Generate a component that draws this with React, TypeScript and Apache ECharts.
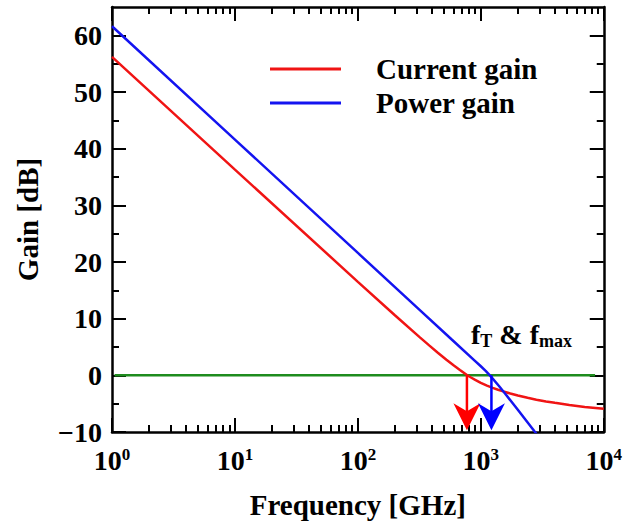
import React, { useEffect, useRef } from 'react';
import * as echarts from 'echarts';

// ---- data ----
const currentFreq = [1, 10, 100, 200, 316, 380, 447, 525, 600, 676, 771, 832, 900, 1000, 1122, 1250, 1380, 1524, 1738, 2000, 2400, 2831, 3390, 4000, 5248, 7000, 10000];
const currentGain = [56.2, 36.3, 16.5, 10.6, 6.78, 5.28, 4.0, 2.75, 1.78, 0.95, 0.05, -0.38, -0.8, -1.32, -1.81, -2.21, -2.54, -2.84, -3.2, -3.55, -3.97, -4.3, -4.6, -4.85, -5.25, -5.57, -5.88];

const powerFreq = [1, 10, 100, 316, 583, 900, 1000, 1100, 1200, 1400, 1585, 2000, 2740, 3000];
const powerGain = [61.6, 41.6, 21.6, 11.6, 6.28, 2.52, 1.6, 0.74, -0.13, -1.84, -3.3, -6.08, -9.92, -11.0];

const unityFreq = [1.05, 8500];
const unityGain = [0, 0];

const arrowFreq = [771, 1220];
const arrowColors = ['#ff0000', '#0000ff'];

const yMajorTicks = [-10, 0, 10, 20, 30, 40, 50, 60];
const yMinorTicks = [-5, 5, 15, 25, 35, 45, 55];
const xDecades = [0, 1, 2, 3];
const xMinorMultipliers = [2, 3, 4, 5, 6, 7, 8, 9];

const FONT = "'Liberation Serif', 'Times New Roman', serif";

export default function App() {
  const ref = useRef<HTMLDivElement>(null);

  useEffect(() => {
    if (!ref.current) return;
    document.body.style.margin = '0';
    const chart = echarts.init(ref.current, null, { renderer: 'svg' });

    const xMinorLog: number[] = [];
    xDecades.forEach((d) => xMinorMultipliers.forEach((k) => xMinorLog.push(Math.log10(k * Math.pow(10, d)))));

    const line = { show: true, onZero: false, lineStyle: { color: '#000', width: 2.5 } };
    const noLine = { show: false, onZero: false };
    const majorTick = { show: true, inside: true, length: 14, lineStyle: { color: '#000', width: 2 } };
    const minorTickStyle = { show: true, inside: true, length: 7, lineStyle: { color: '#000', width: 2 } };

    const option: any = {
      animation: false,
      backgroundColor: '#fff',
      grid: { left: 112, right: 17, top: 7, bottom: 92, containLabel: false },
      legend: {
        data: [
          { name: 'Current gain', icon: 'rect' },
          { name: 'Power gain', icon: 'rect' },
        ],
        orient: 'vertical',
        left: 265,
        top: 49,
        itemWidth: 71,
        itemHeight: 3,
        itemGap: 4,
        textStyle: {
          fontFamily: FONT,
          fontWeight: 'bold',
          fontSize: 29,
          color: '#000',
          lineHeight: 30,
          padding: [0, 0, 0, 30],
        },
      },
      xAxis: [
        {
          type: 'log',
          logBase: 10,
          min: 1,
          max: 10000,
          position: 'bottom',
          axisLine: line,
          axisTick: majorTick,
          splitLine: { show: false },
          name: 'Frequency [GHz]',
          nameLocation: 'middle',
          nameGap: 58,
          nameTextStyle: { fontFamily: FONT, fontWeight: 'bold', fontSize: 29, color: '#000' },
          axisLabel: {
            margin: 14,
            formatter: (v: number) => '{b|10}{s|' + Math.round(Math.log10(v)) + '}',
            rich: {
              b: { fontFamily: FONT, fontWeight: 'bold', fontSize: 28, color: '#000' },
              s: { fontFamily: FONT, fontWeight: 'bold', fontSize: 17, color: '#000', verticalAlign: 'top' },
            },
          },
        },
        {
          type: 'value',
          min: 0,
          max: 4,
          position: 'bottom',
          axisLine: noLine,
          axisLabel: { show: false },
          splitLine: { show: false },
          axisTick: { ...minorTickStyle, customValues: xMinorLog },
        },
        {
          type: 'log',
          logBase: 10,
          min: 1,
          max: 10000,
          position: 'top',
          axisLine: line,
          axisTick: majorTick,
          axisLabel: { show: false },
          splitLine: { show: false },
        },
        {
          type: 'value',
          min: 0,
          max: 4,
          position: 'top',
          axisLine: noLine,
          axisLabel: { show: false },
          splitLine: { show: false },
          axisTick: { ...minorTickStyle, customValues: xMinorLog },
        },
      ],
      yAxis: [
        {
          type: 'value',
          min: -10,
          max: 65,
          interval: 10,
          position: 'left',
          axisLine: line,
          axisTick: { ...majorTick, customValues: yMajorTicks },
          splitLine: { show: false },
          name: 'Gain [dB]',
          nameLocation: 'middle',
          nameRotate: 90,
          nameGap: 70,
          nameTextStyle: { fontFamily: FONT, fontWeight: 'bold', fontSize: 29, color: '#000' },
          axisLabel: {
            customValues: yMajorTicks,
            margin: 10,
            fontFamily: FONT,
            fontWeight: 'bold',
            fontSize: 28,
            color: '#000',
            formatter: (v: number) => String(v).replace('-', '\u2212'),
          },
        },
        {
          type: 'value',
          min: -10,
          max: 65,
          position: 'left',
          axisLine: noLine,
          axisLabel: { show: false },
          splitLine: { show: false },
          axisTick: { ...minorTickStyle, customValues: yMinorTicks },
        },
        {
          type: 'value',
          min: -10,
          max: 65,
          position: 'right',
          axisLine: line,
          axisLabel: { show: false },
          splitLine: { show: false },
          axisTick: { ...majorTick, customValues: yMajorTicks },
        },
        {
          type: 'value',
          min: -10,
          max: 65,
          position: 'right',
          axisLine: noLine,
          axisLabel: { show: false },
          splitLine: { show: false },
          axisTick: { ...minorTickStyle, customValues: yMinorTicks },
        },
      ],
      series: [
        {
          name: 'Unity',
          type: 'line',
          data: unityFreq.map((f, i) => [f, unityGain[i]]),
          symbol: 'none',
          lineStyle: { color: '#1e8c1e', width: 2.5 },
          itemStyle: { color: '#1e8c1e' },
          z: 2,
        },
        {
          name: 'Current gain',
          type: 'line',
          data: currentFreq.map((f, i) => [f, currentGain[i]]),
          symbol: 'none',
          lineStyle: { color: '#f01414', width: 2.5 },
          itemStyle: { color: '#f01414' },
          z: 3,
        },
        {
          name: 'Power gain',
          type: 'line',
          data: powerFreq.map((f, i) => [f, powerGain[i]]),
          symbol: 'none',
          lineStyle: { color: '#1414f0', width: 2.5 },
          itemStyle: { color: '#1414f0' },
          z: 3,
        },
        {
          name: 'Arrows',
          type: 'custom',
          coordinateSystem: 'cartesian2d',
          clip: false,
          z: 4,
          data: arrowFreq.map((f, i) => ({ value: [f, 0], itemStyle: { color: arrowColors[i] } })),
          renderItem: (params: any, api: any) => {
            const f = api.value(0);
            const top = api.coord([f, 0]);
            const tip = api.coord([f, -9.7]);
            const color = api.visual('color');
            return {
              type: 'group',
              children: [
                {
                  type: 'line',
                  shape: { x1: top[0], y1: top[1], x2: tip[0], y2: tip[1] - 18 },
                  style: { stroke: color, lineWidth: 2.5 },
                },
                {
                  type: 'polygon',
                  shape: {
                    points: [
                      [tip[0], tip[1]],
                      [tip[0] - 13.5, tip[1] - 27],
                      [tip[0], tip[1] - 19],
                      [tip[0] + 13.5, tip[1] - 27],
                    ],
                  },
                  style: { fill: color },
                },
              ],
            };
          },
        },
      ],
      graphic: [
        {
          type: 'text',
          left: 471,
          top: 320,
          style: {
            text: '{n|f}{s|T}{n| & f}{s|max}',
            rich: {
              n: { fontFamily: FONT, fontWeight: 'bold', fontSize: 28, color: '#000' },
              s: { fontFamily: FONT, fontWeight: 'bold', fontSize: 18, color: '#000', verticalAlign: 'bottom', padding: [14, 0, 0, 0] },
            },
          },
        },
      ],
    };

    chart.setOption(option);
    return () => chart.dispose();
  }, []);

  return <div ref={ref} style={{ width: 625, height: 524 }} />;
}
